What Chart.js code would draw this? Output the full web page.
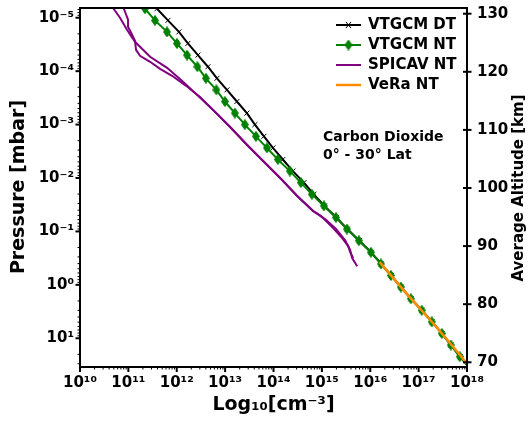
<!DOCTYPE html>
<html>
<head>
<meta charset="utf-8">
<title>Carbon Dioxide density profiles</title>
<script src="https://cdn.jsdelivr.net/npm/chart.js@4.4.1/dist/chart.umd.min.js"></script>
<style>
  html, body { margin: 0; padding: 0; background: #fff; }
  #wrap { width: 528px; height: 424px; }
</style>
</head>
<body>
<div id="wrap"><canvas id="co2Chart" width="528" height="424"></canvas></div>
<script>
// --- data ---
// VTGCM pressure levels [mbar]
const vtgcmPressure = [6.78e-6, 1.12e-5, 1.84e-5, 3.03e-5, 5.01e-5, 8.26e-5, 1.36e-4, 2.24e-4,
  3.70e-4, 6.10e-4, 1.00e-3, 1.66e-3, 2.73e-3, 4.50e-3, 7.43e-3, 1.22e-2, 2.02e-2, 3.33e-2,
  5.48e-2, 9.04e-2, 0.149, 0.246, 0.405, 0.668, 1.10, 1.82, 2.99, 4.93, 8.13, 13.4, 22.1, 36.4];
// CO2 number density [cm^-3]
const vtgcmDT = [3.90e11, 6.58e11, 1.11e12, 1.70e12, 2.74e12, 4.41e12, 6.78e12, 1.09e13,
  1.75e13, 2.82e13, 4.13e13, 6.34e13, 9.73e13, 1.56e14, 2.52e14, 4.25e14, 6.84e14, 1.13e15,
  2.00e15, 3.37e15, 5.96e15, 1.05e16, 1.69e16, 2.71e16, 4.35e16, 7.00e16, 1.17e17, 1.89e17,
  3.05e17, 4.68e17, 7.20e17, 1.15e18];
const vtgcmNT = [2.20e11, 3.55e11, 6.28e11, 1.01e12, 1.63e12, 2.67e12, 4.01e12, 6.58e12,
  9.91e12, 1.59e13, 2.56e13, 4.33e13, 7.31e13, 1.23e14, 2.18e14, 3.68e14, 6.21e14, 1.10e15,
  1.95e15, 3.29e15, 5.81e15, 1.03e16, 1.66e16, 2.67e16, 4.29e16, 6.90e16, 1.16e17, 1.87e17,
  3.01e17, 4.62e17, 7.10e17, 1.14e18];

// SPICAV NT, two profiles
const spicavPressureA = [5.46e-6, 1.0e-5, 1.68e-5, 2.82e-5, 5.39e-5, 8.66e-5, 1.58e-4, 2.90e-4,
  5.55e-4, 1.11e-3, 2.31e-3, 4.60e-3, 9.58e-3, 2.08e-2, 4.16e-2, 5.38e-2, 8.66e-2, 0.133,
  0.188, 0.244, 0.316];
const spicavDensityA = [4.18e10, 6.71e10, 9.37e10, 1.37e11, 2.81e11, 6.31e11, 1.35e12, 2.76e12,
  5.92e12, 1.27e13, 2.72e13, 5.82e13, 1.31e14, 2.94e14, 6.61e14, 1.01e15, 1.71e15, 2.63e15,
  3.50e15, 3.85e15, 4.44e15];
const spicavPressureB = [5.46e-6, 7.72e-6, 1.09e-5, 1.48e-5, 1.91e-5, 2.70e-5, 3.98e-5, 5.16e-5,
  6.68e-5, 9.04e-5, 1.22e-4, 1.88e-4, 3.03e-4, 6.04e-4, 1.21e-3, 2.51e-3, 5.01e-3, 1.04e-2,
  2.27e-2, 4.16e-2, 4.73e-2, 6.14e-2, 9.04e-2, 0.146, 0.224, 0.316, 0.447];
const spicavDensityB = [7.39e10, 8.53e10, 9.84e10, 9.84e10, 1.14e11, 1.37e11, 1.44e11, 1.74e11,
  2.81e11, 4.52e11, 8.00e11, 1.56e12, 3.03e12, 6.50e12, 1.39e13, 2.99e13, 6.40e13, 1.44e14,
  3.24e14, 6.61e14, 8.38e14, 1.23e15, 1.98e15, 3.03e15, 3.85e15, 4.23e15, 5.37e15];

// VeRa NT
const veraPressure = [0.376, 0.579, 0.891, 1.37, 2.11, 3.26, 5.01, 7.72, 11.9, 18.3, 28.2, 33.5];
const veraDensity = [1.57e16, 2.35e16, 3.52e16, 5.29e16, 8.11e16, 1.25e17, 1.91e17, 2.87e17,
  4.30e17, 6.44e17, 9.44e17, 1.11e18];

// axes
const xTickValues = [1e10, 1e11, 1e12, 1e13, 1e14, 1e15, 1e16, 1e17, 1e18];
const xTickLabels = ['10¹⁰', '10¹¹', '10¹²', '10¹³', '10¹⁴', '10¹⁵', '10¹⁶', '10¹⁷', '10¹⁸'];
const pTickValues = [1e-5, 1e-4, 1e-3, 1e-2, 1e-1, 1, 10];
const pTickLabels = ['10⁻⁵', '10⁻⁴', '10⁻³', '10⁻²', '10⁻¹', '10⁰', '10¹'];
const altTickValues = [70, 80, 90, 100, 110, 120, 130];
const legendLabels = ['VTGCM DT', 'VTGCM NT', 'SPICAV NT', 'VeRa NT'];
const legendColors = ['#000000', '#008000', '#800080', '#ff8c00'];

const FONT = "'DejaVu Sans', sans-serif";
Chart.defaults.font.family = FONT;

// --- helpers ---
const toPoints = (xs, ys) => xs.map((x, i) => ({ x: x, y: ys[i] }));

// matplotlib-like thin diamond marker
function thinDiamond(color) {
  const c = document.createElement('canvas');
  c.width = 8; c.height = 11;
  const g = c.getContext('2d');
  g.fillStyle = color; g.strokeStyle = color; g.lineWidth = 1;
  g.beginPath();
  g.moveTo(4, 0.5); g.lineTo(7.5, 5.5); g.lineTo(4, 10.5); g.lineTo(0.5, 5.5);
  g.closePath(); g.fill(); g.stroke();
  return c;
}
const diamond = thinDiamond('#008000');

function fixTicks(values) {
  return (scale) => { scale.ticks = values.map(v => ({ value: v })); };
}

// spines, tick marks, titles, legend and annotation
const decor = {
  id: 'decor',
  afterDraw(chart) {
    const { ctx, chartArea: a } = chart;
    const xs = chart.scales.x, ys = chart.scales.y, as = chart.scales.alt;
    const seg = (x1, y1, x2, y2, w) => {
      ctx.lineWidth = w;
      ctx.beginPath(); ctx.moveTo(x1, y1); ctx.lineTo(x2, y2); ctx.stroke();
    };
    ctx.save();
    ctx.strokeStyle = '#000';
    ctx.fillStyle = '#000';
    ctx.lineWidth = 2;
    ctx.strokeRect(a.left, a.top, a.right - a.left, a.bottom - a.top);

    // x ticks
    xTickValues.forEach((v, i) => {
      const px = xs.getPixelForValue(v);
      seg(px, a.bottom, px, a.bottom + 5, 2);
      if (i < xTickValues.length - 1) {
        for (let m = 2; m <= 9; m++) {
          const q = xs.getPixelForValue(m * v);
          seg(q, a.bottom, q, a.bottom + 2.5, 1);
        }
      }
    });
    // pressure ticks
    pTickValues.forEach(v => {
      const py = ys.getPixelForValue(v);
      seg(a.left - 4.5, py, a.left, py, 2);
    });
    [1e-6, 1e-5, 1e-4, 1e-3, 1e-2, 1e-1, 1, 10].forEach(v => {
      for (let m = 2; m <= 9; m++) {
        const val = m * v;
        if (val < ys.min || val > ys.max) continue;
        const q = ys.getPixelForValue(val);
        seg(a.left - 2.5, q, a.left, q, 1);
      }
    });
    // altitude ticks (in and out)
    altTickValues.forEach(v => {
      const py = as.getPixelForValue(v);
      seg(a.right - 4, py, a.right + 4.5, py, 2);
    });

    // axis titles
    ctx.textAlign = 'center';
    ctx.textBaseline = 'middle';
    ctx.font = 'bold 19px ' + FONT;
    ctx.fillText('Log₁₀[cm⁻³]', (a.left + a.right) / 2, 405);
    ctx.save();
    ctx.translate(19, 187);
    ctx.rotate(-Math.PI / 2);
    ctx.fillText('Pressure [mbar]', 0, 0);
    ctx.restore();
    ctx.save();
    ctx.font = 'bold 15px ' + FONT;
    ctx.translate(519, 188);
    ctx.rotate(-Math.PI / 2);
    ctx.fillText('Average Altitude [km]', 0, 0);
    ctx.restore();

    // annotation
    ctx.textAlign = 'left';
    ctx.font = 'bold 14px ' + FONT;
    ctx.fillText('Carbon Dioxide', 323, 137);
    ctx.fillText('0° - 30° Lat', 323, 155);

    // legend
    ctx.font = 'bold 15px ' + FONT;
    legendLabels.forEach((lab, i) => {
      const y = 25 + 20 * i;
      ctx.strokeStyle = legendColors[i];
      seg(336, y, 361, y, i === 3 ? 2.5 : 2);
      if (i === 0) {
        seg(346, y - 3, 351, y + 3, 1);
        seg(346, y + 3, 351, y - 3, 1);
      }
      if (i === 1) ctx.drawImage(diamond, 348.5 - 4, y - 5.5);
      ctx.fillStyle = '#000';
      ctx.fillText(lab, 368, y);
    });
    ctx.restore();
  }
};

const tickFont = { family: FONT, size: 15, weight: 'bold' };

new Chart(document.getElementById('co2Chart'), {
  type: 'line',
  data: {
    datasets: [
      {
        label: 'VTGCM DT', data: toPoints(vtgcmDT, vtgcmPressure), yAxisID: 'y',
        borderColor: '#000', borderWidth: 2, pointStyle: 'crossRot', pointRadius: 3.5,
        pointBorderColor: '#000', pointBorderWidth: 1, order: 4
      },
      {
        label: 'VTGCM NT', data: toPoints(vtgcmNT, vtgcmPressure), yAxisID: 'y',
        borderColor: '#008000', borderWidth: 2, pointStyle: diamond, order: 3
      },
      {
        label: 'SPICAV NT', data: toPoints(spicavDensityA, spicavPressureA), yAxisID: 'y',
        borderColor: '#800080', borderWidth: 2, pointRadius: 0, order: 2
      },
      {
        label: 'SPICAV NT', data: toPoints(spicavDensityB, spicavPressureB), yAxisID: 'y',
        borderColor: '#800080', borderWidth: 2, pointRadius: 0, order: 2
      },
      {
        label: 'VeRa NT', data: toPoints(veraDensity, veraPressure), yAxisID: 'y',
        borderColor: '#ff8c00', borderWidth: 2.5, pointRadius: 0, order: 1
      }
    ]
  },
  options: {
    responsive: false,
    animation: false,
    devicePixelRatio: 1,
    layout: { padding: { top: 8, left: 0, right: 0, bottom: 0 } },
    plugins: { legend: { display: false }, tooltip: { enabled: false } },
    elements: { line: { tension: 0 } },
    scales: {
      x: {
        type: 'logarithmic', min: 1e10, max: 1e18,
        grid: { display: false, drawTicks: false }, border: { display: false },
        afterBuildTicks: fixTicks(xTickValues),
        afterFit: (s) => { s.height = 57; s.paddingLeft = 0; s.paddingRight = 0; },
        ticks: {
          autoSkip: false, maxRotation: 0, padding: 7, color: '#000', font: tickFont,
          callback: (v, i) => xTickLabels[i]
        }
      },
      y: {
        type: 'logarithmic', reverse: true, position: 'left', min: 6.57e-6, max: 34.5,
        grid: { display: false, drawTicks: false }, border: { display: false },
        afterBuildTicks: fixTicks(pTickValues),
        afterFit: (s) => { s.width = 80; s.paddingTop = 0; s.paddingBottom = 0; },
        ticks: {
          autoSkip: false, padding: 6, color: '#000', font: tickFont,
          callback: (v, i) => pTickLabels[i]
        }
      },
      alt: {
        type: 'linear', position: 'right', min: 69.19, max: 130.98,
        grid: { display: false, drawTicks: false }, border: { display: false },
        afterBuildTicks: fixTicks(altTickValues),
        afterFit: (s) => { s.width = 61; s.paddingTop = 0; s.paddingBottom = 0; },
        ticks: {
          autoSkip: false, padding: 10, color: '#000', font: tickFont,
          callback: (v) => String(v)
        }
      }
    }
  },
  plugins: [decor]
});
</script>
</body>
</html>
